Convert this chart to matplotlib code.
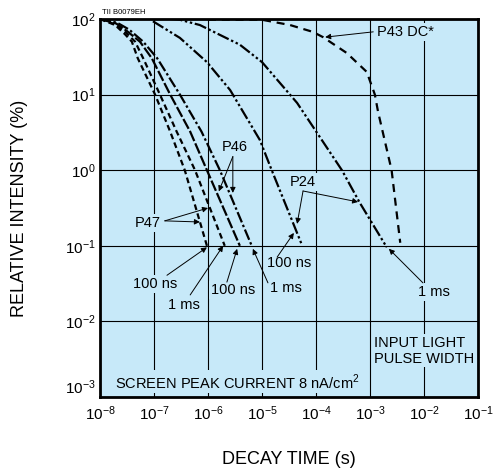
import numpy as np
import matplotlib
matplotlib.use("Agg")
import matplotlib.pyplot as plt

plt.rcParams["font.family"] = ["Liberation Sans", "DejaVu Sans"]
plt.rcParams["mathtext.fontset"] = "custom"
plt.rcParams["mathtext.rm"] = "Liberation Sans"

# decay curves, log10(time in s) vs log10(relative intensity in %)
p47_100ns_t = [-8.0, -7.72, -7.54, -7.41, -7.30, -6.98, -6.70, -6.43, -6.02]
p47_100ns_i = [2.0, 1.92, 1.80, 1.70, 1.48, 1.0, 0.51, 0.0, -1.0]

p47_1ms_t = [-8.0, -7.72, -7.52, -7.35, -7.20, -6.89, -6.58, -6.24, -5.69]
p47_1ms_i = [2.0, 1.93, 1.82, 1.70, 1.48, 1.0, 0.51, 0.0, -1.0]

p46_100ns_t = [-8.0, -7.70, -7.50, -7.26, -7.04, -6.70, -6.33, -6.02, -5.41]
p46_100ns_i = [2.0, 1.94, 1.84, 1.70, 1.48, 1.0, 0.51, 0.0, -1.0]

p46_1ms_t = [-8.0, -7.68, -7.46, -7.20, -6.94, -6.52, -6.12, -5.78, -5.19]
p46_1ms_i = [2.0, 1.95, 1.86, 1.70, 1.48, 1.0, 0.51, 0.0, -1.0]

p24_100ns_t = [-7.02, -6.52, -6.02, -5.59, -5.04, -4.82, -4.26]
p24_100ns_i = [1.97, 1.75, 1.43, 1.06, 0.40, 0.0, -0.99]

p24_1ms_t = [-6.70, -6.52, -6.15, -5.41, -5.0, -4.35, -3.52, -3.19, -2.69]
p24_1ms_i = [2.0, 1.99, 1.92, 1.66, 1.43, 0.89, 0.0, -0.43, -1.02]

p43_t = [-6.0, -5.0, -4.48, -4.06, -3.87, -3.43, -3.06, -2.91, -2.85, -2.60, -2.44]
p43_i = [1.99, 1.99, 1.92, 1.83, 1.76, 1.55, 1.30, 1.0, 0.77, 0.0, -0.96]

x_decades = [-8, -7, -6, -5, -4, -3, -2, -1]
y_decades = [-3, -2, -1, 0, 1, 2]

bg = "#c7e9f9"
lw = 1.6

fig = plt.figure(figsize=(4.94, 4.68), dpi=100)
ax = fig.add_axes([100 / 494, 71 / 468, 378 / 494, 378 / 468])
ax.set_facecolor(bg)
ax.set_xscale("log")
ax.set_yscale("log")
ax.set_xlim(1e-8, 1e-1)
ax.set_ylim(1e-3, 1e2)


def curve(t, i, ls):
    ax.plot(10 ** np.array(t), 10 ** np.array(i), color="black", lw=lw,
            ls=ls, solid_capstyle="butt", dash_capstyle="butt", zorder=3)


curve(p47_100ns_t, p47_100ns_i, (0, (2.6, 1.6)))
curve(p47_1ms_t, p47_1ms_i, (0, (2.6, 1.6)))
curve(p46_100ns_t, p46_100ns_i, (0, (5.0, 1.1)))
curve(p46_1ms_t, p46_1ms_i, (0, (5.0, 1.2, 1.1, 1.2)))
curve(p24_100ns_t, p24_100ns_i, (0, (5.5, 1.2, 1.1, 1.2, 1.1, 1.2)))
curve(p24_1ms_t, p24_1ms_i, (0, (5.5, 1.2, 1.1, 1.2, 1.1, 1.2)))
curve(p43_t, p43_i, (0, (3.6, 2.6)))

ax.minorticks_off()
ax.set_xticks([10.0 ** k for k in x_decades])
ax.set_xticklabels([r"$\mathregular{10^{%d}}$" % k for k in x_decades])
ax.set_yticks([10.0 ** k for k in y_decades])
ax.set_yticklabels([r"$\mathregular{10^{%d}}$" % k for k in y_decades])
ax.tick_params(length=0, labelsize=11)
ax.tick_params(axis="x", pad=5)
ax.tick_params(axis="y", pad=3)
# lift the bottom y label a little so it clears the first x label
ax.get_yticklabels()[0].set_verticalalignment("bottom")
ax.grid(True, which="major", color="black", lw=0.8, zorder=1)
ax.set_axisbelow(True)
for s in ax.spines.values():
    s.set_linewidth(2.0)
    s.set_zorder(5)

ax.set_xlabel("DECAY TIME (s)", fontsize=13)
ax.xaxis.set_label_coords(0.5, -0.143)
ax.set_ylabel("RELATIVE INTENSITY (%)", fontsize=13)
ax.yaxis.set_label_coords(-0.19, 0.5)

box = dict(boxstyle="square,pad=0.12", fc=bg, ec="none")
arrow = dict(arrowstyle="-|>", lw=0.7, color="black", mutation_scale=8,
             shrinkA=0, shrinkB=0)


def label(text, lx, ly, **kw):
    ax.text(10 ** lx, 10 ** ly, text, fontsize=10.5, va="center",
            bbox=box, zorder=4, **kw)


def pointer(tail, tip):
    ax.annotate("", xy=(10 ** tip[0], 10 ** tip[1]),
                xytext=(10 ** tail[0], 10 ** tail[1]),
                arrowprops=arrow, zorder=4)


label("P43 DC*", -2.87, 1.83, ha="left")
pointer((-2.94, 1.83), (-3.83, 1.76))

label("P46", -5.50, 0.31, ha="center")
pointer((-5.54, 0.18), (-5.80, -0.28))
pointer((-5.54, 0.18), (-5.54, -0.30))

label("P47", -7.11, -0.70, ha="center")
pointer((-6.80, -0.67), (-6.0, -0.50))
pointer((-6.80, -0.67), (-6.15, -0.685))

label("100 ns", -6.98, -1.505, ha="center")
pointer((-6.76, -1.39), (-6.02, -1.02))
label("1 ms", -6.44, -1.78, ha="center")
pointer((-6.33, -1.65), (-5.72, -1.0))
label("100 ns", -5.54, -1.585, ha="center")
pointer((-5.65, -1.48), (-5.46, -1.04))
label("1 ms", -4.56, -1.56, ha="center")
pointer((-4.89, -1.49), (-5.17, -1.04))

label("P24", -4.24, -0.156, ha="center")
pointer((-4.24, -0.275), (-4.35, -0.71))
pointer((-4.24, -0.275), (-3.22, -0.42))
label("100 ns", -4.50, -1.23, ha="center")
pointer((-4.72, -1.15), (-4.41, -0.83))
label("1 ms", -1.815, -1.61, ha="center")
pointer((-2.02, -1.49), (-2.65, -1.04))

label("INPUT LIGHT\nPULSE WIDTH", -2.93, -2.39, ha="left", linespacing=1.15)
label("SCREEN PEAK CURRENT 8 nA/cm$^2$", -7.72, -2.80, ha="left")

fig.text(102 / 494, 1 - 12 / 468, "TII B0079EH", fontsize=5.5, va="center")

fig.savefig("out.png", dpi=100, facecolor="white")
